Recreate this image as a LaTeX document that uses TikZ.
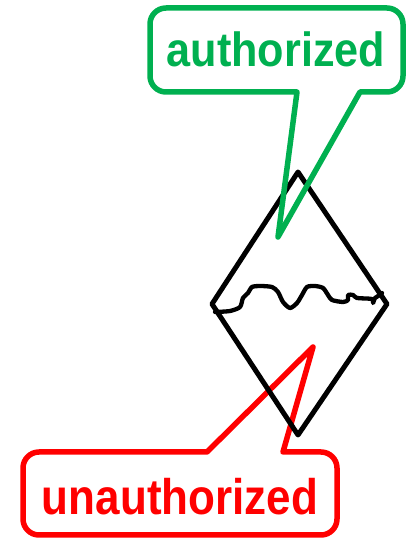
\documentclass[tikz,border=0pt]{standalone}
\usepackage{fontspec}
\newfontfamily\callfontA[FakeStretch=0.90]{Liberation Sans Bold}
\newfontfamily\callfontB[FakeStretch=0.88]{Liberation Sans Bold}
\definecolor{callgreen}{RGB}{0,176,80}
\definecolor{callred}{RGB}{255,0,0}
\begin{document}
\begin{tikzpicture}[x=1pt,y=1pt,line join=round,line cap=round,
  callout/.style={line width=5.5pt},
  gem/.style={line width=5pt,black}]
\useasboundingbox (0,0) rectangle (416,539);
% red callout (bottom)
\draw[callout,callred] (39,4) -- (321,4) arc(270:360:16) -- (337,71) arc(0:90:16)
  -- (283,87) -- (313,192) -- (207,87) -- (39,87) arc(90:180:16) -- (23,20) arc(180:270:16) -- cycle;
\node[anchor=base,text=callred,inner sep=0pt] (unauth) at (180,24) {\fontsize{50}{50}\callfontB unauthorized};
% diamond
\draw[gem] (298,367) -- (387,235) -- (298,104) -- (212,235) -- cycle;
% crack
\draw[line width=4.3pt] plot[smooth,tension=0.45] coordinates {
 (215,227) (230,228) (240,232) (243,241) (248,246) (252,252) (260,253) (272,252)
 (278,247) (283,237) (290,231) (297,236) (302,244) (307,252) (315,253) (323,251)
 (328,244) (332,239) (343,237) (348,239) (348,244) (353,244) (357,241) (372,240)
 (373,236) (375,241) (380,244) (382,246)};
% green callout (top)
\draw[callout,callgreen] (166,447) -- (297,447) -- (278,302) -- (360,447) -- (387,447)
  arc(270:360:16) -- (403,515) arc(0:90:16) -- (166,531) arc(90:180:16) -- (150,463) arc(180:270:16) -- cycle;
\node[anchor=base,text=callgreen,inner sep=0pt] (auth) at (276,472) {\fontsize{48}{48}\callfontA authorized};
\end{tikzpicture}
\end{document}
